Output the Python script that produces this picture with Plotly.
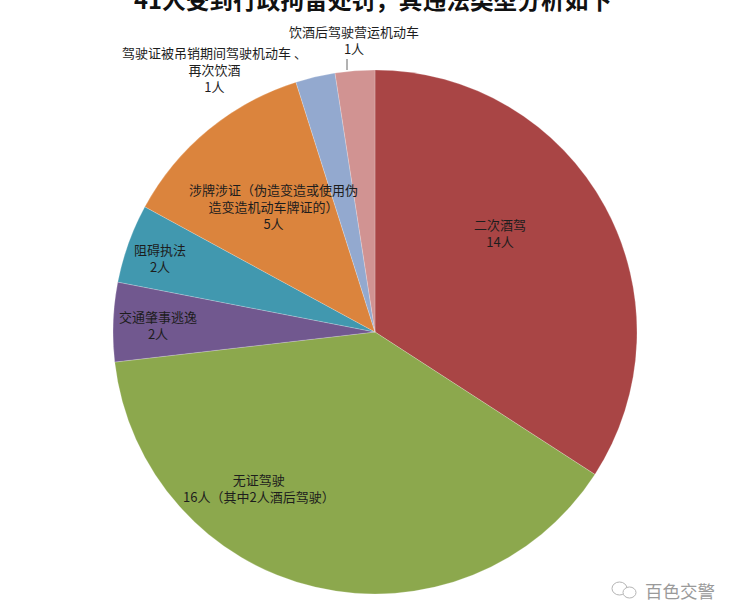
import plotly.graph_objects as go

categories = ["二次酒驾", "无证驾驶", "交通肇事逃逸", "阻碍执法", "涉牌涉证", "驾驶证被吊销期间驾驶机动车、再次饮酒", "饮酒后驾驶营运机动车"]
values = [14, 16, 2, 2, 5, 1, 1]
colors = ["#A94545", "#8CA84D", "#71588F", "#4198AF", "#DB843D", "#93A9CF", "#D19392"]
title = "41人受到行政拘留处罚，其违法类型分析如下"
watermark = "百色交警"

W, H = 739, 600
cx, cy, r = 375, 332, 262

fig = go.Figure(go.Pie(
    labels=categories, values=values, sort=False, direction="clockwise", rotation=0,
    marker=dict(colors=colors, line=dict(color="rgba(255,255,255,0.35)", width=0.6)),
    textinfo="none", hoverinfo="skip", showlegend=False,
    domain=dict(x=[(cx - r) / W, (cx + r) / W], y=[1 - (cy + r) / H, 1 - (cy - r) / H]),
))

FONT = "Noto Sans CJK SC"
def note(px, py, text, size=13, color="#1d1d1d", **kw):
    fig.add_annotation(x=px / W, y=1 - py / H, xref="paper", yref="paper", text=text, showarrow=False,
                       xanchor="center", yanchor="middle", align="center",
                       font=dict(family=FONT, size=size, color=color), **kw)

note(500, 233, f"{categories[0]}<br>{values[0]}人")
note(259, 488, f"{categories[1]}<br>{values[1]}人（其中2人酒后驾驶）")
note(158, 325, f"{categories[2]}<br>{values[2]}人")
note(160, 258, f"{categories[3]}<br>{values[3]}人")
note(273, 207, f"{categories[4]}（伪造变造或使用伪<br>造变造机动车牌证的）<br>{values[4]}人")
note(214, 69, "驾驶证被吊销期间驾驶机动车 、<br>再次饮酒<br>1人")
note(354, 40, f"{categories[6]}<br>{values[6]}人")
note(373, -1, f"<b>{title}</b>", size=23.7, color="#111111")
note(680, 590, watermark, size=17.5, color="#9a9a9a")

fig.add_shape(type="line", xref="paper", yref="paper", x0=347 / W, x1=347 / W, y0=1 - 59 / H, y1=1 - 70 / H,
              line=dict(color="#666666", width=1))
for x0, y0, x1, y1 in [(612, 582, 627, 595), (623, 587, 636, 598)]:
    fig.add_shape(type="circle", xref="paper", yref="paper", x0=x0 / W, x1=x1 / W, y0=1 - y0 / H, y1=1 - y1 / H,
                  line=dict(color="#b5b5b5", width=1), fillcolor="white")

fig.update_layout(width=W, height=H, margin=dict(l=0, r=0, t=0, b=0), paper_bgcolor="white",
                  font=dict(family=FONT))
fig.write_html("out.html", post_script="document.body.style.margin='0';", config={"displayModeBar": False})
